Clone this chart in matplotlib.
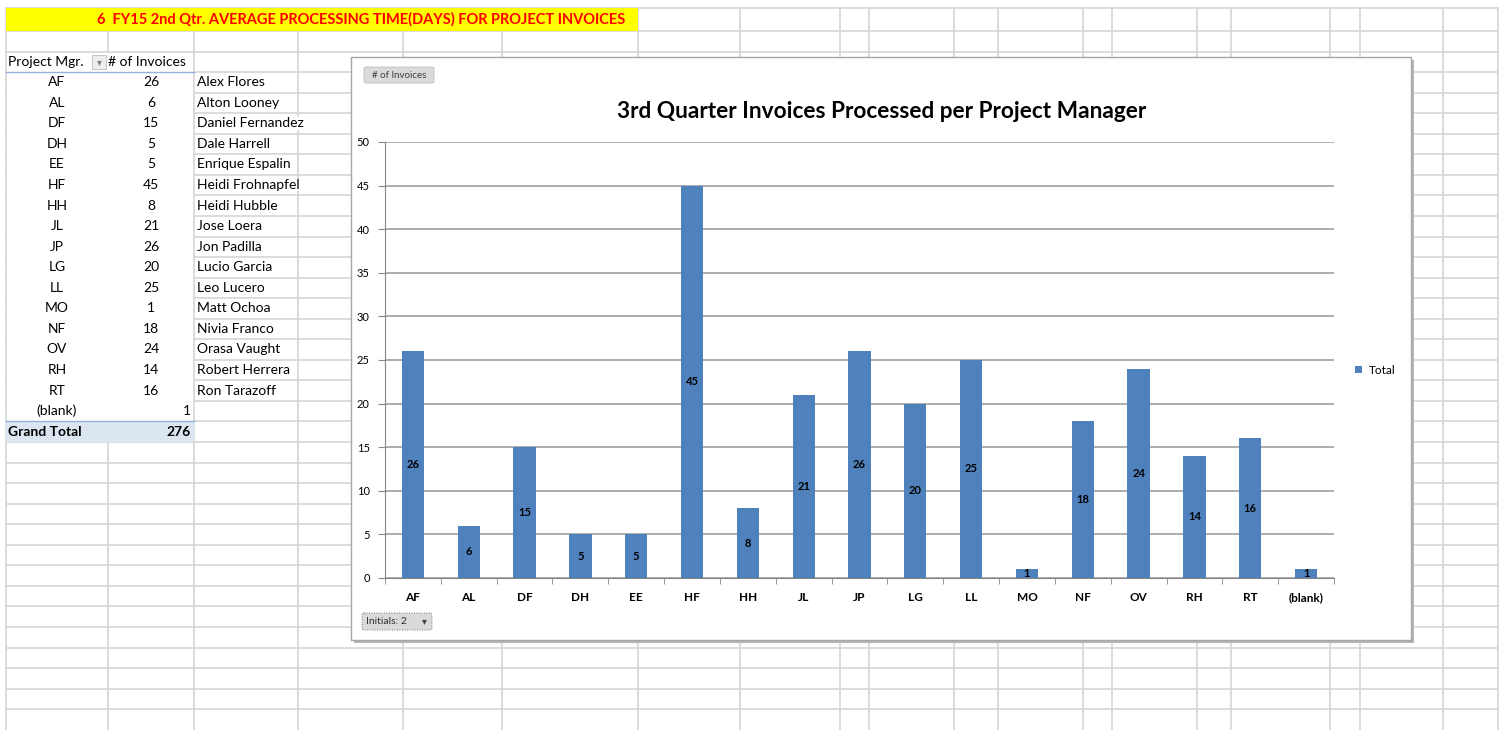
import matplotlib
matplotlib.use("Agg")
import matplotlib.pyplot as plt
import matplotlib.patches as mpatches

# pivot table data (Project Mgr. / # of Invoices)
initials = ["AF", "AL", "DF", "DH", "EE", "HF", "HH", "JL", "JP", "LG",
            "LL", "MO", "NF", "OV", "RH", "RT", "(blank)"]
invoices = [26, 6, 15, 5, 5, 45, 8, 21, 26, 20, 25, 1, 18, 24, 14, 16, 1]
names = ["Alex Flores", "Alton Looney", "Daniel Fernandez", "Dale Harrell",
         "Enrique Espalin", "Heidi Frohnapfel", "Heidi Hubble", "Jose Loera",
         "Jon Padilla", "Lucio Garcia", "Leo Lucero", "Matt Ochoa",
         "Nivia Franco", "Orasa Vaught", "Robert Herrera", "Ron Tarazoff"]

sheet_title = "6  FY15 2nd Qtr. AVERAGE PROCESSING TIME(DAYS) FOR PROJECT INVOICES"
chart_title = "3rd Quarter Invoices Processed per Project Manager"
y_ticks = [0, 5, 10, 15, 20, 25, 30, 35, 40, 45, 50]

plt.rcParams['font.family'] = ['Lato', 'DejaVu Sans']

W, H = 1503, 730
BAR = "#4F81BD"
GRID = "#D6D6D6"
FS = 10  # cell font size

fig = plt.figure(figsize=(W / 100, H / 100), dpi=100)
bg = fig.add_axes([0, 0, 1, 1])
bg.set_xlim(0, W)
bg.set_ylim(H, 0)
bg.axis("off")

# spreadsheet grid
cols = [6, 108, 194, 298, 403, 502, 638, 740, 840, 869, 954, 998, 1083,
        1112, 1197, 1231, 1330, 1360, 1443, 1498]
row_h = 20.55
rows = [8] + [31 + i * row_h for i in range(34)]
for y in rows:
    bg.plot([cols[0], cols[-1]], [y, y], color=GRID, lw=1.2, zorder=1)
for x in cols:
    bg.plot([x, x], [rows[0], H], color=GRID, lw=1.2, zorder=1)

# yellow banner
bg.add_patch(mpatches.Rectangle((6, 8), 632, 23, facecolor="#FFFF00",
                                edgecolor="none", zorder=2))
bg.text(97, 19.5, sheet_title, color="#FF0000", fontsize=10.5, fontweight="bold",
        ha="left", va="center", zorder=3)

# pivot table area (no gridlines inside)
top_body = 72
n = len(initials)
bg.add_patch(mpatches.Rectangle((6.8, 52.6), 186.5, top_body + (n + 1) * row_h - 53.2,
                                facecolor="white", edgecolor="none", zorder=2))
bg.text(8, 62, "Project Mgr.", fontsize=FS, ha="left", va="center", zorder=3)
bg.add_patch(mpatches.Rectangle((92, 55), 14, 14, facecolor="#EDEDED",
                                edgecolor="#BDBDBD", lw=0.6, zorder=3))
bg.text(99, 62, "▾", fontsize=7, color="#808080", ha="center", va="center",
        family=["DejaVu Sans"], zorder=4)
bg.text(108, 62, "# of Invoices", fontsize=FS, ha="left", va="center", zorder=3)
bg.plot([6, 194], [top_body, top_body], color="#95B3D7", lw=1, zorder=3)

for i, (ini, val) in enumerate(zip(initials, invoices)):
    yc = top_body + (i + 0.5) * row_h
    bg.text(57, yc, ini, fontsize=FS, ha="center", va="center", zorder=3)
    if ini == "(blank)":
        bg.text(191, yc, str(val), fontsize=FS, ha="right", va="center", zorder=3)
    else:
        bg.text(151, yc, str(val), fontsize=FS, ha="center", va="center", zorder=3)

for i, nm in enumerate(names):
    yc = top_body + (i + 0.5) * row_h
    bg.text(197, yc, nm, fontsize=FS, ha="left", va="center", zorder=3,
            bbox=dict(facecolor="white", edgecolor="none", pad=0.3))

# grand total row
gt_y = top_body + n * row_h
bg.add_patch(mpatches.Rectangle((6, gt_y), 188, row_h, facecolor="#DCE6F1",
                                edgecolor="none", zorder=2))
bg.plot([6, 194], [gt_y, gt_y], color="#95B3D7", lw=1, zorder=3)
bg.text(8, gt_y + row_h / 2, "Grand Total", fontsize=FS, fontweight="bold",
        ha="left", va="center", zorder=3)
bg.text(191, gt_y + row_h / 2, str(sum(invoices)), fontsize=FS, fontweight="bold",
        ha="right", va="center", zorder=3)

# chart frame with shadow
cx0, cy0, cx1, cy1 = 351, 57, 1411, 640
bg.add_patch(mpatches.Rectangle((cx0 + 3, cy0 + 3), cx1 - cx0, cy1 - cy0,
                                facecolor="#B5B5B5", edgecolor="none", zorder=4))
bg.add_patch(mpatches.Rectangle((cx0, cy0), cx1 - cx0, cy1 - cy0,
                                facecolor="white", edgecolor="#A6A6A6", lw=1, zorder=5))

# pivot chart field buttons
bg.add_patch(mpatches.FancyBboxPatch((364, 67), 70, 16, boxstyle="round,pad=0,rounding_size=2",
                                     facecolor="#DADADA", edgecolor="#BFBFBF", lw=0.6, zorder=6))
bg.text(399, 75, "# of Invoices", fontsize=7, color="#404040", ha="center",
        va="center", zorder=7)
bg.add_patch(mpatches.FancyBboxPatch((362, 613), 70, 17, boxstyle="round,pad=0,rounding_size=2",
                                     facecolor="#DADADA", edgecolor="#505050", lw=0.6,
                                     linestyle=(0, (1, 2)), zorder=6))
bg.text(366, 621.5, "Initials: 2", fontsize=7.5, color="#303030", ha="left",
        va="center", zorder=7)
bg.text(424, 621.5, "▾", fontsize=7, color="#404040", ha="center", va="center",
        family=["DejaVu Sans"], zorder=7)

bg.text(882, 112, chart_title, fontsize=16.3, fontweight="bold", ha="center",
        va="center", zorder=7)

# legend
bg.add_patch(mpatches.Rectangle((1355, 366), 7, 7, facecolor=BAR, edgecolor="none", zorder=7))
bg.text(1369, 370, "Total", fontsize=8.5, ha="left", va="center", zorder=7)

# bar chart
px0, px1, py0, py1 = 385, 1334, 578, 142
ax = fig.add_axes([px0 / W, 1 - py0 / H, (px1 - px0) / W, (py0 - py1) / H])
ax.patch.set_alpha(0)
pos = list(range(len(initials)))
ax.bar(pos, invoices, width=0.4, color=BAR, zorder=3)
for p, v in zip(pos, invoices):
    ax.text(p, v / 2, str(v), fontsize=8, fontweight="bold", ha="center",
            va="center", zorder=4)

ax.set_xlim(-0.5, len(initials) - 0.5)
ax.set_ylim(0, 50)
ax.set_yticks(y_ticks)
ax.set_yticklabels([str(t) for t in y_ticks], fontsize=8)
ax.set_xticks(pos)
ax.set_xticklabels(initials, fontsize=8.5, fontweight="bold")
ax.set_xticks([p - 0.5 for p in pos] + [len(pos) - 0.5], minor=True)
ax.tick_params(axis="x", which="major", length=0, pad=10)
ax.tick_params(axis="x", which="minor", length=4, direction="out", color="#868686")
ax.tick_params(axis="y", length=5, direction="out", color="#868686", pad=6)
ax.grid(axis="y", color="#A6A6A6", lw=1.3, zorder=1)
for s in ["top", "right"]:
    ax.spines[s].set_visible(False)
ax.spines["left"].set_color("#868686")
ax.spines["bottom"].set_color("#868686")

fig.savefig("out.png", dpi=100)
